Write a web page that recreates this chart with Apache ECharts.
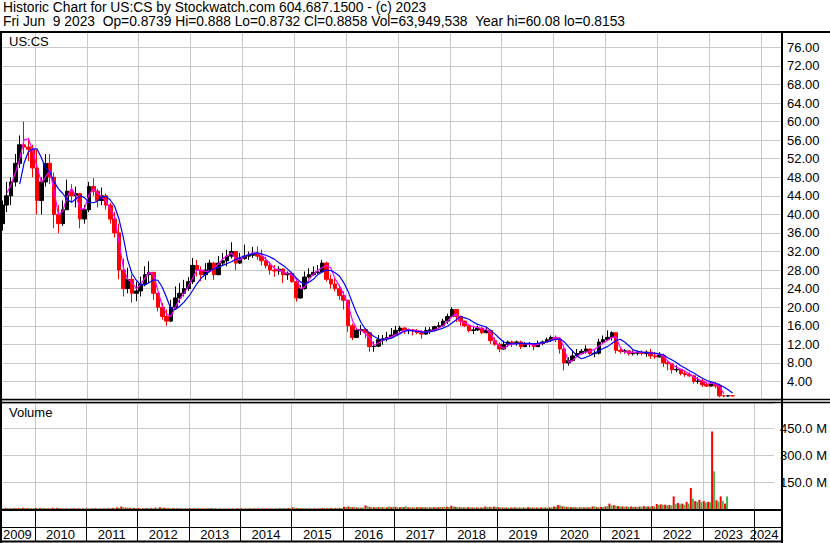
<!DOCTYPE html>
<html><head><meta charset="utf-8">
<script src="https://cdn.jsdelivr.net/npm/echarts@6/dist/echarts.min.js"></script>
<style>html,body{margin:0;padding:0;background:#fff}#c{width:830px;height:543px}</style>
</head><body><div id="c"></div>
<script>
// ---- data (monthly, May 2009 .. Jun 2023) ----
const months = [
'2009-05','2009-06','2009-07','2009-08','2009-09','2009-10','2009-11','2009-12',
'2010-01','2010-02','2010-03','2010-04','2010-05','2010-06','2010-07','2010-08','2010-09','2010-10','2010-11','2010-12',
'2011-01','2011-02','2011-03','2011-04','2011-05','2011-06','2011-07','2011-08','2011-09','2011-10','2011-11','2011-12',
'2012-01','2012-02','2012-03','2012-04','2012-05','2012-06','2012-07','2012-08','2012-09','2012-10','2012-11','2012-12',
'2013-01','2013-02','2013-03','2013-04','2013-05','2013-06','2013-07','2013-08','2013-09','2013-10','2013-11','2013-12',
'2014-01','2014-02','2014-03','2014-04','2014-05','2014-06','2014-07','2014-08','2014-09','2014-10','2014-11','2014-12',
'2015-01','2015-02','2015-03','2015-04','2015-05','2015-06','2015-07','2015-08','2015-09','2015-10','2015-11','2015-12',
'2016-01','2016-02','2016-03','2016-04','2016-05','2016-06','2016-07','2016-08','2016-09','2016-10','2016-11','2016-12',
'2017-01','2017-02','2017-03','2017-04','2017-05','2017-06','2017-07','2017-08','2017-09','2017-10','2017-11','2017-12',
'2018-01','2018-02','2018-03','2018-04','2018-05','2018-06','2018-07','2018-08','2018-09','2018-10','2018-11','2018-12',
'2019-01','2019-02','2019-03','2019-04','2019-05','2019-06','2019-07','2019-08','2019-09','2019-10','2019-11','2019-12',
'2020-01','2020-02','2020-03','2020-04','2020-05','2020-06','2020-07','2020-08','2020-09','2020-10','2020-11','2020-12',
'2021-01','2021-02','2021-03','2021-04','2021-05','2021-06','2021-07','2021-08','2021-09','2021-10','2021-11','2021-12',
'2022-01','2022-02','2022-03','2022-04','2022-05','2022-06','2022-07','2022-08','2022-09','2022-10','2022-11','2022-12',
'2023-01','2023-02','2023-03','2023-04','2023-05','2023-06'];

const open = [
38,42,44,47,51,55,54.5,54,
50,43,47,51,48,40,38,41,45,44,44.5,39,
41,46,45,43,44,42,39,36,28,24,26,23,
23.5,25,27,27.5,23,20,18,17,20,22,23,24,
25.5,29,28,27,28,29.5,27,29.5,30,31,32,29.5,
30.5,31,31.2,31.5,31,30,29,28,27.8,28.2,27,27.3,
25.5,22,24,26.5,27,27.5,27.6,29.5,26,25,24,22.5,
21.5,16,13.5,15,15.2,14.5,11.5,11.6,13,13.2,13.5,14,
15,15.5,15,15.1,14.9,14.5,14.2,15,15.1,15.8,16,17,
18,19.5,18,17,16,15,15.1,15.5,14.5,15,12.8,12,
11,12,12.5,12.4,12.5,11.5,12,12.1,11.5,12.2,12.5,13,
13.5,13,11,8,8.5,9.5,10,10.5,11,10,10.1,12.5,
13,13.5,14.5,10.7,10.5,10.6,10,10.1,10.2,10,10.3,9.5,
9.3,9.6,8,7.8,6.5,6.6,5.7,5.5,5.2,4,4.1,3.3,
3,3.4,3,0.9,0.88,0.9];
const close = [
42,44,47,51,55,54.5,54,50,
43,47,51,48,40,38,41,45,44,44.5,39,41,
46,45,43,44,42,39,36,28,24,26,23,23.5,
25,27,27.5,23,20,18,17,20,22,23,24,25.5,
29,28,27,28,29.5,27,29.5,30,31,32,29.5,30.5,
31,31.2,31.5,31,30,29,28,27.8,28.2,27,27.3,25.5,
22,24,26.5,27,27.5,27.6,29.5,26,25,24,22.5,21.5,
16,13.5,15,15.2,14.5,11.5,11.6,13,13.2,13.5,14,15,
15.5,15,15.1,14.9,14.5,14.2,15,15.1,15.8,16,17,18,
19.5,18,17,16,15,15.1,15.5,14.5,15,12.8,12,11,
12,12.5,12.4,12.5,11.5,12,12.1,11.5,12.2,12.5,13,13.5,
13,11,8,8.5,9.5,10,10.5,11,10,10.1,12.5,13,
13.5,14.5,10.7,10.5,10.6,10,10.1,10.2,10,10.3,9.5,9.3,
9.6,8,7.8,6.5,6.6,5.7,5.5,5.2,4,4.1,3.3,3,
3.4,3,0.9,0.88,0.9,0.8858];
const low = [
36.5,40.5,42,46,50,53,51.5,48,
40,40,46,46.5,37,36,37.5,41,42.5,41.5,37,38,
40.5,44,41.5,42,41,38,35,26,22.3,23,21,21.3,
22.3,24.5,25.2,21.6,19.1,17.3,16,16.8,19.5,20.9,22.3,23.5,
25,26.6,25.6,25.9,27.8,25.9,27,29,28.8,30.5,28,29.3,
30.2,30.2,30.6,30.2,29,28.4,27,26.6,27,25.2,25.9,25.3,
21.2,21.8,23.8,26.2,26.8,27.1,27.4,25.5,24,23.4,21.6,19.5,
14.7,12.9,13.3,14,13.3,10.4,10.4,11.4,11.9,12.6,13.3,13.8,
14.6,14.2,14.2,13.9,14.2,13.2,14.1,14.2,14.8,15.3,15.7,16.4,
17.8,16.8,16,15.7,14.6,14.2,14.9,14.2,14.4,12.1,11.7,10.3,
10.8,11.4,11.4,11.7,11,11.4,11.4,10.7,11.4,11.8,12.4,12.5,
12.5,10,6.4,7.4,8.3,9.3,9.8,10,9.6,9.2,9.8,12.3,
12.8,12.8,10,10,10,9.6,9.6,9.6,9.6,9.3,8.9,8.9,
9.1,7.1,6.4,5.7,6,5.3,5,5,3.5,3.5,2.8,2.8,
2.9,2.5,0.6,0.6,0.75,0.8153];
const high = [
43,47,48,53,57,60,56.5,55,
54,48,53,53,49,42,43,47.5,46.5,46,44.5,42,
47,47.8,45.5,45.8,44.5,42.5,40.5,38,30.5,28.5,27,25.5,
26.6,28.8,29.9,27.6,22.8,20.9,19.5,21.6,24.5,25.2,25.9,26.5,
30.6,30.2,28.8,29.5,30.2,29.8,31,31.7,32.4,34,32,31.7,
33.5,32,33,33.1,32.4,30.9,29.8,29.1,28.8,28.4,27.7,27.7,
26.2,24.8,27.7,28.4,28.8,29.1,30.2,29.8,27,26.2,24.8,23.4,
21.5,16.5,15.5,16.2,15.5,14.6,12.6,14,14,14.7,15.5,16,
16,15.7,15.4,15.3,15.3,15,15.7,15.7,16,16.8,17.5,18.6,
20,19.6,18.2,17.1,16.4,16,16,15.7,15.7,15.1,13.5,12.4,
12.8,12.8,12.8,12.8,12.8,12.5,12.5,12.2,12.8,12.8,13.5,13.9,
13.9,13.5,11.2,9.2,10.7,11,11,11.8,11.1,10.7,13.2,13.9,
15,14.8,14.6,11.4,11,10.7,10.7,10.7,10.7,10.7,11,10.3,
10.3,10,8.5,7.9,7.5,6.7,6.4,6,5.3,4.9,4.6,3.9,
3.9,3.9,3.5,1.1,1.05,0.95];
// short moving average (magenta)
const maShort = [
null,44.5,46.3,48.9,52,56,56.3,53.8,
50.2,46.9,48,49.5,45,39.9,40.7,43.8,45.6,44,41.2,41.2,
44.2,45.5,44.7,43.7,42.9,41.1,39.5,34,28.5,26,25.3,24,
24.9,26.3,27.5,27,23.6,20.2,18.6,18,20,21.7,23,24.5,
26.3,28,28,27.7,27.7,28.4,29.3,30.4,31.1,31.7,30.5,30.2,
30.9,31.4,31.7,31.7,31.2,30.3,29.4,28.3,28,27.6,27.2,27,
26,24,24.3,26,27.1,27.9,28.5,29,28.5,26.1,24.6,22.8,
20.6,17.1,15.3,15,14.3,13.3,11.8,12.3,12.9,13.3,13.6,14.1,
14.5,15,15.1,15,15,14.8,14.6,14.8,15.1,15.5,16,17,
18,18.5,17,16.6,16.2,15.8,15.6,15.3,15.2,14.3,12.7,11.6,
11.1,11.8,12.1,12.2,12.2,12.1,12,11.8,12,12.3,12.5,13,
13.5,13.4,11.2,8.2,8.5,9.4,10,10.3,10.5,10.9,11.6,12.3,
12.9,13.5,13.6,11.3,10.3,10.3,10.3,10.3,10.3,10.2,10.1,10,
9.8,9.4,8.4,7.6,7.1,6.6,6.2,5.6,4.9,4.5,4,3.7,
3.6,3.5,2.9,1.3,null,null];
// long moving average (blue)
const maLong = [
null,null,null,null,46.5,51,53.5,54.1,
54.1,52.2,50,49.1,47,45.5,44.5,43.2,42.6,43.3,44,43.6,
42.6,42.5,42.8,43.7,43.9,43.1,41.8,39,35,30.2,27.2,25.8,
24.8,24.8,25.3,25.9,25.8,24.3,22.1,19.6,19.5,20.2,21.1,22.2,
23.6,25.1,26.2,27.1,27.7,28.3,28.6,29,29.4,29.8,30.3,30.7,
31,31.3,31.5,31.7,31.5,31.2,30.8,30.3,29.6,29,28.2,27.3,
26.3,25.4,25,25.4,26,27,27.6,28,27.9,27.4,26.7,25.3,
23.4,20.9,18.7,16.7,15.3,14.4,13.7,13.2,12.9,13.1,13.3,13.8,
14.3,14.8,15,14.9,14.8,14.7,14.6,14.7,14.9,15.2,15.5,15.9,
16.6,17.3,18,17.7,17.4,16.8,16.3,16,15.7,15,14.2,13.3,
12.5,12.2,12.1,12.1,12.2,12.2,12.2,12.1,12.2,12.4,12.5,12.8,
13.1,13.1,12.6,11.5,10.5,9.5,8.9,9.2,9.6,10.1,10.6,11.1,
11.5,12.2,12.8,13.1,12.5,11.7,10.8,10.5,10.3,10.2,10.1,10.1,
9.95,9.7,9.1,8.6,8.1,7.4,6.9,6.3,5.8,5.2,4.7,4.2,
3.9,3.6,3.3,2.8,2.2,1.5];
// volume in millions: down periods (red) and up periods (green)
const volDown = [
5,6,4,5,6,7,5,4,
6,5,4,4,7,6,4,4,3,4,5,4,
4,4,5,4,4,5,6,9,14,8,7,6,
5,5,5,6,8,10,7,5,5,4,4,4,
4,4,4,4,4,5,4,4,3,4,4,4,
4,4,4,4,4,4,4,4,4,5,4,5,
9,5,4,4,4,4,4,6,5,5,6,6,
12,14,10,8,7,20,12,9,10,10,9,10,
12,10,10,9,8,10,9,10,9,9,10,10,
12,18,12,10,9,10,8,9,8,14,12,13,
10,8,8,8,9,8,8,10,8,8,8,8,
9,14,22,15,12,10,9,9,9,9,14,10,
12,14,30,22,16,14,14,14,12,14,16,14,
16,28,26,24,22,70,34,30,40,117,44,50,
44,40,431,48,70,30];
const volUp = [
4,5,5,6,5,6,4,5,
5,4,5,4,5,5,4,5,4,4,4,4,
4,4,4,4,4,4,5,7,9,8,6,5,
5,6,5,5,6,7,6,5,5,5,4,5,
5,4,4,4,5,4,4,4,4,4,3,4,
4,4,4,4,3,4,4,4,4,5,4,4,
8,5,5,5,4,4,5,5,5,5,5,5,
10,12,12,8,8,16,10,10,9,9,14,12,
10,12,16,10,9,11,10,9,10,10,11,11,
11,14,12,10,9,9,9,8,9,11,10,12,
10,9,8,8,8,8,8,9,8,8,7,8,
9,12,20,14,12,10,9,10,9,9,15,10,
11,16,20,18,14,12,12,12,12,13,14,12,
14,22,24,20,20,28,26,24,30,57,40,38,
36,38,209,40,45,70];
// axis tick values / labels
const yearBounds = [2010,2011,2012,2013,2014,2015,2016,2017,2018,2019,2020,2021,2022,2023,2024];
const yearLabels = ['2009','2010','2011','2012','2013','2014','2015','2016','2017','2018','2019','2020','2021','2022','2023','2024'];
const headerLine1 = 'Historic Chart for US:CS by Stockwatch.com 604.687.1500 - (c) 2023';
const headerLine2 = 'Fri Jun\u00a0\u00a09 2023\u00a0\u00a0Op=0.8739 Hi=0.888 Lo=0.8732 Cl=0.8858 Vol=63,949,538\u00a0\u00a0Year hi=60.08 lo=0.8153';

// ---- build ----
const FONT = '"Liberation Sans", Arial, sans-serif';
const xMin = new Date(2009, 3, 29).getTime();
const xMax = new Date(2024, 4, 21).getTime();
const boundTs = yearBounds.map(y => new Date(y, 0, 1).getTime());
const labelTs = yearLabels.map(y => {
  const a = Math.max(new Date(+y, 0, 1).getTime(), xMin);
  const b = Math.min(new Date(+y + 1, 0, 1).getTime(), xMax);
  return (a + b) / 2;
});
const ts = months.map(m => { const p = m.split('-'); return new Date(+p[0], +p[1] - 1, 15).getTime(); });
const candles = ts.map((d, i) => [d, open[i], close[i], low[i], high[i]]);
const pair = arr => ts.map((d, i) => [d, arr[i]]);

const GRID = '#c8c8c8';
const chart = echarts.init(document.getElementById('c'), null, {renderer: 'svg'});
const hl = (x1, y1, x2, y2, w) => ({type: 'line', silent: true, z: 100,
  shape: {x1, y1, x2, y2}, style: {stroke: '#000', lineWidth: w}});
const txt = (left, top, text, size) => ({type: 'text', left, top, z: 100, silent: true,
  style: {text, fontSize: size || 13, fontFamily: FONT, fill: '#000'}});

chart.setOption({
  animation: false,
  backgroundColor: '#fff',
  grid: [
    {left: 0, right: 49, top: 32, height: 368},
    {left: 0, right: 49, top: 403, height: 106}
  ],
  xAxis: [
    {type: 'value', gridIndex: 0, min: xMin, max: xMax, scale: true,
     axisLine: {show: false}, axisTick: {show: false, customValues: boundTs},
     axisLabel: {show: false}, splitLine: {show: true, lineStyle: {color: GRID, width: 1}}},
    {type: 'value', gridIndex: 1, min: xMin, max: xMax, scale: true,
     axisLine: {show: false},
     axisTick: {show: true, customValues: boundTs, length: 33, lineStyle: {color: '#000', width: 1}},
     axisLabel: {show: true, customValues: labelTs, margin: 19, fontSize: 13, fontFamily: FONT, color: '#000',
       hideOverlap: false, formatter: v => String(new Date(v).getFullYear())},
     splitLine: {show: true, lineStyle: {color: GRID, width: 1}}}
  ],
  yAxis: [
    {type: 'value', gridIndex: 0, position: 'right', min: 0, max: 79.3, interval: 4,
     axisLine: {show: false}, axisTick: {show: false},
     axisLabel: {margin: 6, fontSize: 13, fontFamily: FONT, color: '#000', showMinLabel: false, showMaxLabel: false,
       formatter: v => v.toFixed(2)},
     splitLine: {show: true, lineStyle: {color: GRID, width: 1}}},
    {type: 'value', gridIndex: 1, position: 'right', min: 0, max: 589, interval: 150,
     axisLine: {show: false}, axisTick: {show: false},
     axisLabel: {margin: 6, fontSize: 13, fontFamily: FONT, color: '#000', showMinLabel: false, showMaxLabel: false,
       formatter: v => v.toFixed(1) + ' M'},
     splitLine: {show: true, lineStyle: {color: GRID, width: 1}}}
  ],
  series: [
    {type: 'candlestick', xAxisIndex: 0, yAxisIndex: 0, barWidth: 4,
     dimensions: ['date', 'open', 'close', 'lowest', 'highest'],
     encode: {x: 'date', y: ['open', 'close', 'lowest', 'highest']},
     data: candles,
     itemStyle: {color: '#000000', color0: '#ff0000', borderColor: '#000000', borderColor0: '#ff0000', borderWidth: 1}},
    {type: 'line', xAxisIndex: 0, yAxisIndex: 0, data: pair(maShort), showSymbol: false,
     lineStyle: {color: '#ff00ff', width: 1.2}, itemStyle: {color: '#ff00ff'}},
    {type: 'line', xAxisIndex: 0, yAxisIndex: 0, data: pair(maLong), showSymbol: false,
     lineStyle: {color: '#0000ff', width: 1.2}, itemStyle: {color: '#0000ff'}},
    {type: 'bar', xAxisIndex: 1, yAxisIndex: 1, data: pair(volDown), barWidth: 2, barGap: '0%',
     itemStyle: {color: '#ff0000'}},
    {type: 'bar', xAxisIndex: 1, yAxisIndex: 1, data: pair(volUp), barWidth: 2, barGap: '0%',
     itemStyle: {color: '#4caf50'}}
  ],
  graphic: [
    txt(3, 0, headerLine1, 13.8),
    txt(3, 14, headerLine2, 13.8),
    txt(9, 35, 'US:CS'),
    txt(9, 406, 'Volume'),
    hl(0, 32, 830, 32, 2),
    hl(1, 31, 1, 543, 2),
    hl(782, 31, 782, 543, 2),
    hl(0, 399.5, 830, 399.5, 1.5),
    hl(0, 402.5, 830, 402.5, 1.5),
    hl(0, 510, 782, 510, 2),
    hl(0, 527.5, 782, 527.5, 1),
    hl(0, 541.5, 782, 541.5, 2)
  ]
});
</script></body></html>
